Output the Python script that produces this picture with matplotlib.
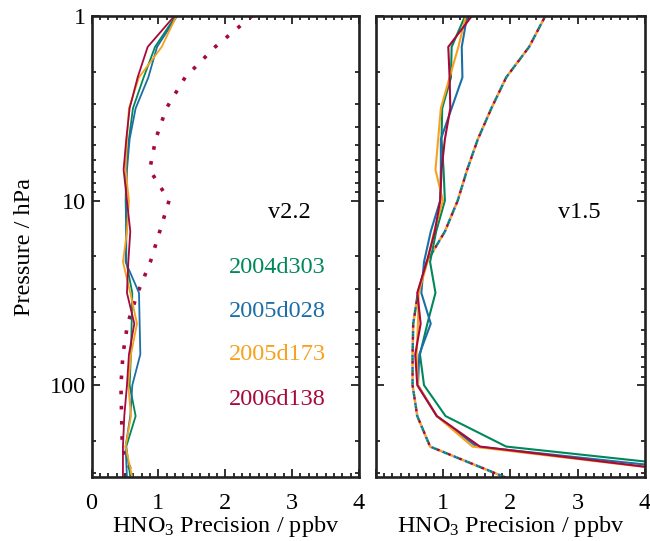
import matplotlib
matplotlib.use('Agg')
import matplotlib.pyplot as plt
from matplotlib.ticker import MultipleLocator, FixedLocator, FixedFormatter, LogLocator, NullFormatter

plt.rcParams['font.family'] = ['Liberation Serif', 'DejaVu Serif']
plt.rcParams['mathtext.fontset'] = 'custom'
plt.rcParams['mathtext.rm'] = 'Liberation Serif'
plt.rcParams['mathtext.it'] = 'Liberation Serif:italic'

# ---------------- data ----------------
pressure = [1.0, 1.47, 2.15, 3.16, 4.64, 6.81, 10.0, 14.7, 21.5, 31.6, 46.4, 68.1, 100.0, 147.0, 215.0, 316.0]

days = ['2004d303', '2005d028', '2005d173', '2006d138']
colors = ['#00875a', '#1c6ea6', '#f7a11e', '#a6093a']

# v2.2 precision (solid)
v22_2004d303 = [1.26, 0.95, 0.78, 0.62, 0.56, 0.52, 0.51, 0.52, 0.52, 0.61, 0.60, 0.59, 0.57, 0.66, 0.52, 0.58]
v22_2005d028 = [1.28, 0.98, 0.85, 0.66, 0.57, 0.53, 0.52, 0.52, 0.51, 0.71, 0.72, 0.73, 0.61, 0.58, 0.51, 0.53]
v22_2005d173 = [1.27, 1.05, 0.71, 0.56, 0.53, 0.51, 0.56, 0.53, 0.47, 0.58, 0.68, 0.59, 0.55, 0.59, 0.51, 0.61]
v22_2006d138 = [1.24, 0.84, 0.69, 0.57, 0.52, 0.48, 0.53, 0.58, 0.55, 0.53, 0.64, 0.56, 0.53, 0.49, 0.47, 0.47]
# v2.2 predicted precision (dotted)
v22_predicted = [2.40, 1.85, 1.40, 1.12, 0.96, 0.87, 1.16, 1.02, 0.88, 0.69, 0.54, 0.47, 0.44, 0.45, 0.46, 0.62]

# v1.5 precision (solid)
v15_2004d303 = [1.33, 1.13, 1.12, 0.99, 0.98, 1.01, 1.03, 0.90, 0.81, 0.89, 0.77, 0.66, 0.72, 1.04, 1.94, 6.2]
v15_2005d028 = [1.36, 1.28, 1.29, 1.13, 0.97, 0.97, 0.96, 0.82, 0.72, 0.68, 0.82, 0.65, 0.63, 0.91, 1.50, 5.8]
v15_2005d173 = [1.34, 1.23, 1.10, 0.97, 0.93, 0.89, 1.00, 0.87, 0.77, 0.64, 0.63, 0.61, 0.63, 0.91, 1.44, 5.3]
v15_2006d138 = [1.43, 1.08, 1.10, 1.11, 1.03, 0.98, 0.96, 0.88, 0.76, 0.62, 0.67, 0.59, 0.62, 0.91, 1.55, 5.3]
# v1.5 predicted precision (dashed)
v15_predicted = [2.52, 2.28, 1.94, 1.72, 1.52, 1.36, 1.22, 1.03, 0.76, 0.63, 0.56, 0.55, 0.55, 0.62, 0.81, 1.93]

v22_series = [v22_2004d303, v22_2005d028, v22_2005d173, v22_2006d138]
v15_series = [v15_2004d303, v15_2005d028, v15_2005d173, v15_2006d138]

FS = 17.5

fig = plt.figure(figsize=(6.5, 5.41), dpi=100)
ax1 = fig.add_axes([0.1408, 0.1174, 0.4114, 0.853])
ax2 = fig.add_axes([0.5777, 0.1174, 0.4146, 0.853])


def style(ax, ylabels):
    ax.set_yscale('log')
    ax.set_ylim(316.2, 1.0)
    ax.set_xlim(0, 4)
    ax.yaxis.set_major_locator(FixedLocator([1, 10, 100]))
    ax.yaxis.set_minor_locator(LogLocator(base=10, subs=[2, 3, 4, 5, 6, 7, 8, 9]))
    ax.yaxis.set_minor_formatter(NullFormatter())
    if ylabels:
        ax.yaxis.set_major_formatter(FixedFormatter(['1', '10', '100']))
    else:
        ax.yaxis.set_major_formatter(NullFormatter())
    ax.xaxis.set_major_locator(FixedLocator([0, 1, 2, 3, 4]))
    ax.xaxis.set_minor_locator(MultipleLocator(0.125))
    ax.tick_params(which='both', direction='in', top=True, right=True, width=1.3, colors='#222222',
                   labelcolor='black', labelsize=FS)
    ax.tick_params(which='major', length=6)
    ax.tick_params(which='minor', length=3)
    ax.tick_params(axis='x', pad=11)
    ax.tick_params(axis='y', pad=4)
    for s in ax.spines.values():
        s.set_linewidth(1.9)
        s.set_color('#222222')
    ax.set_xlabel(r'HNO$_3$ Precision / ppbv', fontsize=FS, labelpad=0)


style(ax1, True)
style(ax2, False)
ax2.xaxis.set_major_formatter(FixedFormatter(['', '1', '2', '3', '4']))
ax1.xaxis.set_major_formatter(FixedFormatter(['0', '1', '2', '3', '4']))
ax1.set_ylabel('Pressure / hPa', fontsize=FS, labelpad=11)

# left panel
ax1.plot(v22_predicted, pressure, color=colors[3], lw=2.6, linestyle=(0, (1.0, 3.2)),
         dash_capstyle='butt')
for vals, c in zip(v22_series, colors):
    ax1.plot(vals, pressure, color=c, lw=1.3)

# right panel
offsets = [0, 1.2, 2.4, 3.6]
for c, off in zip(colors, offsets):
    ax2.plot(v15_predicted, pressure, color=c, lw=1.8, linestyle=(off, (1.2, 3.6)),
             dash_capstyle='butt')
for vals, c in zip(v15_series, colors):
    ax2.plot(vals, pressure, color=c, lw=1.5)

ax1.text(0.74, 0.574, 'v2.2', transform=ax1.transAxes, fontsize=FS, ha='center', va='center')
ax2.text(0.755, 0.574, 'v1.5', transform=ax2.transAxes, fontsize=FS, ha='center', va='center')

legend_y = [0.455, 0.359, 0.266, 0.169]
for d, c, yy in zip(days, colors, legend_y):
    ax1.text(0.696, yy, d, transform=ax1.transAxes, fontsize=FS, color=c, ha='center', va='center')

fig.savefig('out.png', dpi=100)
